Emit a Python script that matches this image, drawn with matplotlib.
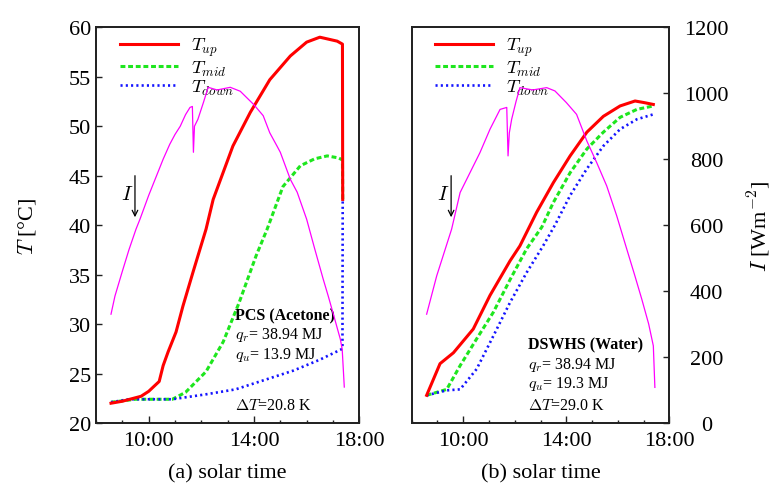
import matplotlib
matplotlib.use("Agg")
import matplotlib.pyplot as plt
from matplotlib.ticker import FixedLocator, MultipleLocator

plt.rcParams['font.family'] = ['Liberation Serif', 'DejaVu Serif']
plt.rcParams['mathtext.fontset'] = 'cm'

# ---------------- data (hours of solar time) ----------------
# Panel (a): PCS (Acetone)
tA_up = [8.57, 9.0, 9.71, 10.0, 10.4, 10.55, 10.74, 11.04, 11.3, 11.69, 12.18, 12.45,
         13.2, 13.86, 14.6, 15.38, 16.0, 16.5, 17.16, 17.36, 17.37]
TA_up = [22.0, 22.2, 22.7, 23.2, 24.2, 25.8, 27.2, 29.2, 31.8, 35.3, 39.6, 42.6,
         48.0, 51.4, 54.7, 57.1, 58.5, 59.0, 58.6, 58.3, 42.6]
tA_mid = [8.57, 9.5, 10.0, 10.9, 11.4, 12.18, 12.83, 13.44, 14.08, 14.5, 15.1, 15.76,
          16.3, 16.78, 17.2, 17.36, 17.37]
TA_mid = [22.1, 22.4, 22.4, 22.4, 23.1, 25.2, 28.2, 32.2, 36.9, 39.6, 43.9, 46.0,
          46.7, 47.0, 46.8, 46.6, 42.6]
tA_down = [8.57, 9.25, 10.0, 10.9, 12.18, 13.3, 14.46, 15.5, 16.5, 17.36, 17.37]
TA_down = [22.1, 22.4, 22.4, 22.4, 22.9, 23.4, 24.4, 25.3, 26.4, 27.5, 42.6]
tA_I = [8.57, 8.72, 9.0, 9.25, 9.52, 9.67, 10.0, 10.3, 10.55, 10.8, 11.0, 11.2, 11.4,
        11.57, 11.66, 11.70, 11.74, 11.87, 12.08, 12.26, 12.6, 13.1, 13.48, 13.86,
        14.0, 14.35, 14.6, 14.88, 15.0, 15.38, 15.64, 16.0, 16.3, 16.63, 16.82,
        17.05, 17.28, 17.35, 17.43]
IA = [330, 385, 460, 525, 588, 618, 690, 750, 800, 845, 875, 900, 935,
      957, 960, 821, 900, 921, 972, 1018, 1010, 1018, 1006, 976,
      965, 932, 880, 839, 821, 739, 700, 618, 530, 436, 385,
      320, 254, 224, 109]

# Panel (b): DSWHS (Water)
tB_up = [8.58, 9.1, 9.62, 10.39, 11.04, 11.82, 12.2, 12.85, 13.5, 14.15, 14.8, 15.44,
         16.09, 16.67, 17.0, 17.38]
TB_up = [22.8, 26.0, 27.1, 29.5, 32.9, 36.4, 37.9, 41.3, 44.3, 47.0, 49.4, 51.0,
         52.05, 52.55, 52.4, 52.2]
tB_mid = [8.58, 9.36, 9.88, 10.52, 11.17, 11.82, 12.46, 13.05, 13.5, 14.15, 14.8,
          15.44, 16.09, 16.74, 17.38]
TB_mid = [22.8, 23.4, 25.8, 28.5, 31.2, 34.5, 37.6, 39.8, 42.3, 45.3, 47.7,
          49.4, 50.9, 51.7, 52.05]
tB_down = [8.58, 9.36, 9.88, 10.52, 11.17, 11.82, 12.46, 13.1, 13.56, 14.15, 14.8,
           15.44, 16.09, 16.74, 17.38]
TB_down = [22.8, 23.3, 23.4, 25.45, 28.8, 32.2, 35.2, 37.9, 40.0, 43.0, 45.7,
           48.0, 49.7, 50.7, 51.2]
tB_I = [8.58, 8.97, 9.55, 9.88, 10.3, 10.65, 11.04, 11.43, 11.69, 11.74, 11.79, 11.88,
        12.05, 12.2, 12.7, 13.24, 13.56, 14.0, 14.4, 14.8, 15.18, 15.57, 15.96,
        16.35, 16.65, 16.93, 17.2, 17.38, 17.44]
IB = [330, 446, 588, 699, 765, 820, 891, 951, 957, 810, 880, 921,
      975, 1017, 1010, 1017, 1007, 972, 936, 855, 790, 719, 628,
      527, 450, 376, 300, 234, 108]

series_labels = [r'$T_{up}$', r'$T_{mid}$', r'$T_{down}$']
xtick_hours = [10, 14, 18]
xtick_labels = ['10:00', '14:00', '18:00']
panel_titles = ['(a) solar time', '(b) solar time']
notes_A = ['PCS (Acetone)', r'$q_r$= 38.94 MJ', r'$q_u$= 13.9 MJ', r'$\Delta T$=20.8 K']
notes_B = ['DSWHS (Water)', r'$q_r$= 38.94 MJ', r'$q_u$= 19.3 MJ', r'$\Delta T$=29.0 K']

# ---------------- figure ----------------
W, H = 778, 485
fig = plt.figure(figsize=(W / 100, H / 100), dpi=100)
axA = fig.add_axes([96 / W, 1 - 424 / H, (359.3 - 96) / W, (424 - 28.3) / H])
axB = fig.add_axes([411.7 / W, 1 - 424 / H, (669.3 - 411.7) / W, (424 - 28.3) / H])

RED = '#ff0000'
GREEN = '#1ee61e'
BLUE = '#1414ff'
MAG = '#ff00ff'
SPC = '#222222'
FS = 16


def draw(ax, tu, Tu, tm, Tm, td, Td, tI, I, notes, nx, ny, dT_y, arrow_x, text_x, right_labels):
    ax.plot(tu, Tu, color=RED, lw=2.2, label=series_labels[0], zorder=4)
    ax.plot(tm, Tm, color=GREEN, lw=2.2, dashes=(1.6, 0.9), label=series_labels[1], zorder=3)
    ax.plot(td, Td, color=BLUE, lw=1.9, dashes=(0.8, 1.2), label=series_labels[2], zorder=3)
    ax.set_xlim(8, 18)
    ax.set_ylim(20, 60)
    ax.xaxis.set_major_locator(FixedLocator(xtick_hours))
    ax.xaxis.set_minor_locator(MultipleLocator(1))
    ax.set_xticklabels(xtick_labels)
    ax.tick_params(axis='x', which='major', direction='in', length=5, width=1,
                   labelsize=FS, pad=6, colors=SPC, labelcolor='black')
    ax.tick_params(axis='x', which='minor', direction='in', length=2.5, width=1, colors=SPC)
    ax.tick_params(axis='y', direction='in', length=4.5, width=1, labelsize=FS, colors=SPC,
                   labelcolor='black')
    for s in ax.spines.values():
        s.set_linewidth(1.3)
        s.set_color(SPC)

    axI = ax.twinx()
    axI.plot(tI, I, color=MAG, lw=0.9, zorder=2)
    axI.set_ylim(0, 1200)
    axI.set_xlim(8, 18)
    axI.yaxis.set_major_locator(MultipleLocator(200))
    for s in axI.spines.values():
        s.set_linewidth(1.3)
        s.set_color(SPC)
    if right_labels:
        axI.tick_params(axis='y', direction='in', length=4.5, width=1, labelsize=FS,
                        colors=SPC, labelcolor='black', pad=27)
        for lab in axI.get_yticklabels():
            lab.set_horizontalalignment('center')
        ax.tick_params(axis='y', left=False, labelleft=False)
    else:
        axI.tick_params(axis='y', right=False, labelright=False)

    leg = ax.legend(loc='upper left', bbox_to_anchor=(0.09, 0.978), frameon=False,
                    fontsize=13.5, handlelength=3.1, handletextpad=0.7,
                    labelspacing=0.0, borderpad=0, borderaxespad=0)
    leg.set_zorder(10)

    # annotations
    ax.text(nx, ny, notes[0], fontsize=11.5, fontweight='bold', va='center', ha='left', zorder=6)
    ax.text(nx, ny - 1.95, notes[1], fontsize=11.5, va='center', ha='left', zorder=6)
    ax.text(nx, ny - 3.95, notes[2], fontsize=11.5, va='center', ha='left', zorder=6)
    ax.text(nx, dT_y, notes[3], fontsize=11.5, va='center', ha='left', zorder=6)

    # I arrow
    ax.annotate('', xy=(arrow_x, 40.8), xytext=(arrow_x, 45.0),
                arrowprops=dict(arrowstyle='->', color='black', lw=0.9,
                                shrinkA=0, shrinkB=0), zorder=6)
    ax.text(text_x, 43.1, r'$I$', fontsize=15, ha='center', va='center', zorder=6)
    return axI


draw(axA, tA_up, TA_up, tA_mid, TA_mid, tA_down, TA_down, tA_I, IA, notes_A,
     13.28, 30.9, 21.85, 9.48, 9.18, False)
axIB = draw(axB, tB_up, TB_up, tB_mid, TB_mid, tB_down, TB_down, tB_I, IB, notes_B,
            12.53, 27.95, 21.85, 9.53, 9.22, True)

axA.set_xlabel(panel_titles[0], fontsize=FS, labelpad=9)
axB.set_xlabel(panel_titles[1], fontsize=FS, labelpad=9)
axA.set_ylabel(r'$T$ [°C]', fontsize=FS, labelpad=22)
axIB.set_ylabel(r'$I$ [Wm$^{-2}$]', fontsize=FS, labelpad=12)

fig.savefig('out.png', dpi=100)
